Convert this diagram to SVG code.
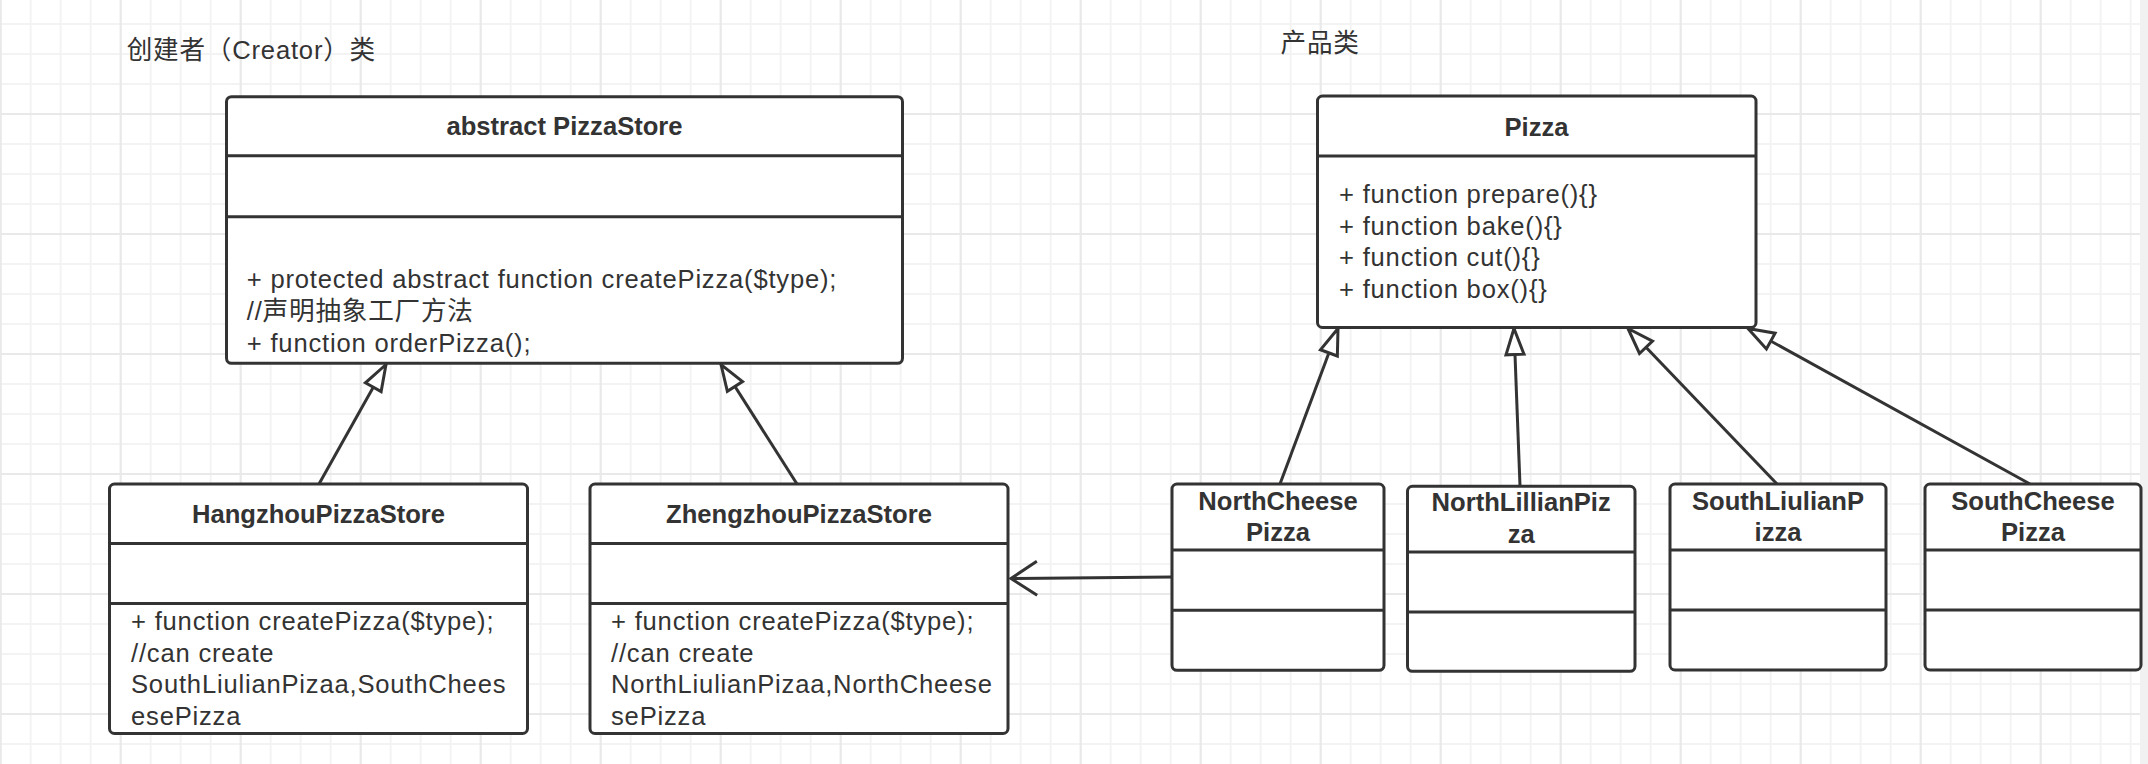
<svg xmlns="http://www.w3.org/2000/svg" width="2148" height="764" viewBox="0 0 2148 764">
<style>
.box{fill:#fff;stroke:#333;stroke-width:3}
.dv{stroke:#333;stroke-width:3;fill:none}
.t{font-family:"Liberation Sans","Noto Sans CJK SC",sans-serif;font-size:25.6px;fill:#333}
.m{letter-spacing:0.8px}
.h{font-weight:bold;text-anchor:middle}
.conn{stroke:#333;stroke-width:3;fill:none}
</style>
<defs>
<pattern id="gMinor" patternUnits="userSpaceOnUse" x="-0.3" y="23" width="30" height="30">
<rect x="0" y="0" width="2" height="30" fill="#f3f3f3"/>
<rect x="0" y="0" width="30" height="2" fill="#f3f3f3"/>
</pattern>
<pattern id="gMajor" patternUnits="userSpaceOnUse" x="-0.3" y="-7" width="120" height="120">
<rect x="0" y="0" width="2" height="120" fill="#e9e9e9"/>
<rect x="0" y="0" width="120" height="2" fill="#e9e9e9"/>
</pattern>
<marker id="inh" markerUnits="userSpaceOnUse" viewBox="-32 -16 36 32" refX="0" refY="0" markerWidth="36" markerHeight="32" orient="auto" overflow="visible">
<path d="M0,0 L-26,-9 L-26,9 Z" fill="#fff" stroke="#333" stroke-width="3"/>
</marker>
<marker id="dep" markerUnits="userSpaceOnUse" viewBox="-32 -20 36 40" refX="0" refY="0" markerWidth="36" markerHeight="40" orient="auto" overflow="visible">
<path d="M-26,-17 L0,0 L-26,17" fill="none" stroke="#333" stroke-width="3"/>
</marker>
</defs>
<g id="background">
<rect x="0" y="0" width="2148" height="764" fill="#fff"/>
<rect x="0" y="0" width="2140" height="764" fill="url(#gMinor)"/>
<rect x="0" y="0" width="2140" height="764" fill="url(#gMajor)"/>
<rect x="2140" y="0" width="8" height="764" fill="#f1f1f1"/>
</g>
<g id="labels">
<text class="t m" x="126.7" y="59">创建者（Creator）类</text>
<text class="t m" x="1280.5" y="51.5">产品类</text>
</g>
<g id="connectors">
<path class="conn" d="M319,484 L386,364.5" marker-end="url(#inh)"/>
<path class="conn" d="M797,484 L721,364.5" marker-end="url(#inh)"/>
<path class="conn" d="M1280,484 L1338,328.5" marker-end="url(#inh)"/>
<path class="conn" d="M1520,486 L1514,328.5" marker-end="url(#inh)"/>
<path class="conn" d="M1777,484 L1628,328.5" marker-end="url(#inh)"/>
<path class="conn" d="M2030,484 L1748,328.5" marker-end="url(#inh)"/>
<path class="conn" d="M1172,577 L1011,578.5" marker-end="url(#dep)"/>
</g>
<g id="PizzaStore">
<rect class="box" x="226.5" y="96.7" width="676" height="266.6" rx="5"/>
<path class="dv" d="M226.5,155.7 H902.5 M226.5,216.7 H902.5"/>
<text class="t h" x="564.5" y="135">abstract PizzaStore</text>
<text class="t m" x="246.8" y="288.3">+ protected abstract function createPizza($type);</text>
<text class="t m" x="246.8" y="320">//声明抽象工厂方法</text>
<text class="t m" x="246.8" y="351.7">+ function orderPizza();</text>
</g>
<g id="Pizza">
<rect class="box" x="1317.5" y="96" width="438.5" height="231.5" rx="5"/>
<path class="dv" d="M1317.5,156 H1756"/>
<text class="t h" x="1536.5" y="136">Pizza</text>
<text class="t m" x="1339" y="203">+ function prepare(){}</text>
<text class="t m" x="1339" y="234.7">+ function bake(){}</text>
<text class="t m" x="1339" y="266.4">+ function cut(){}</text>
<text class="t m" x="1339" y="298.1">+ function box(){}</text>
</g>
<g id="HangzhouPizzaStore">
<rect class="box" x="109.5" y="484" width="418" height="249.5" rx="5"/>
<path class="dv" d="M109.5,543.5 H527.5 M109.5,603.5 H527.5"/>
<text class="t h" x="318.5" y="523">HangzhouPizzaStore</text>
<text class="t m" x="131" y="630">+ function createPizza($type);</text>
<text class="t m" x="131" y="661.7">//can create</text>
<text class="t m" x="131" y="693.4">SouthLiulianPizaa,SouthChees</text>
<text class="t m" x="131" y="725.1">esePizza</text>
</g>
<g id="ZhengzhouPizzaStore">
<rect class="box" x="590" y="484" width="418" height="249.5" rx="5"/>
<path class="dv" d="M590,543.5 H1008 M590,603.5 H1008"/>
<text class="t h" x="799" y="523">ZhengzhouPizzaStore</text>
<text class="t m" x="611" y="630">+ function createPizza($type);</text>
<text class="t m" x="611" y="661.7">//can create</text>
<text class="t m" x="611" y="693.4">NorthLiulianPizaa,NorthCheese</text>
<text class="t m" x="611" y="725.1">sePizza</text>
</g>
<g id="NorthCheesePizza">
<rect class="box" x="1172" y="484" width="212" height="186.3" rx="5"/>
<path class="dv" d="M1172,550 H1384 M1172,610.3 H1384"/>
<text class="t h" x="1278" y="509.7">NorthCheese</text>
<text class="t h" x="1278" y="541.3">Pizza</text>
</g>
<g id="NorthLillianPizza">
<rect class="box" x="1407.5" y="486.3" width="227.5" height="185" rx="5"/>
<path class="dv" d="M1407.5,552 H1635 M1407.5,612 H1635"/>
<text class="t h" x="1521.2" y="511.3">NorthLillianPiz</text>
<text class="t h" x="1521.2" y="543">za</text>
</g>
<g id="SouthLiulianPizza">
<rect class="box" x="1670" y="484" width="216" height="186" rx="5"/>
<path class="dv" d="M1670,550 H1886 M1670,610 H1886"/>
<text class="t h" x="1778" y="510">SouthLiulianP</text>
<text class="t h" x="1778" y="541">izza</text>
</g>
<g id="SouthCheesePizza">
<rect class="box" x="1925" y="484" width="216" height="186" rx="5"/>
<path class="dv" d="M1925,550 H2141 M1925,610 H2141"/>
<text class="t h" x="2033" y="510">SouthCheese</text>
<text class="t h" x="2033" y="541">Pizza</text>
</g>
</svg>
